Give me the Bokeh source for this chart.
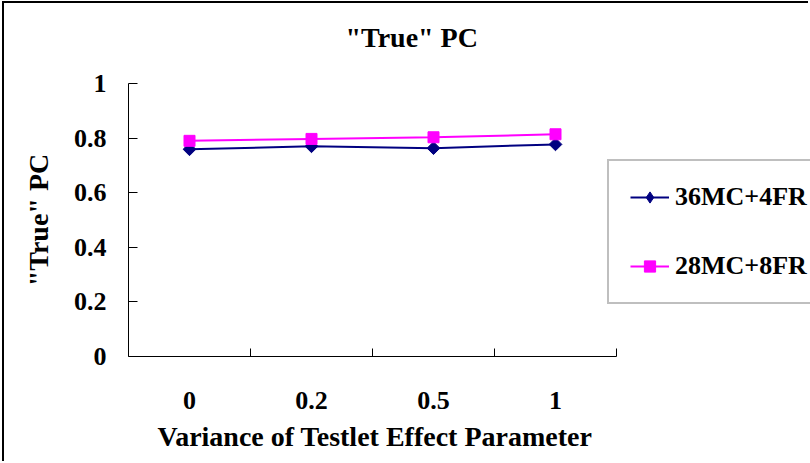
import numpy as np
from bokeh.plotting import figure
from bokeh.models import Range1d, FixedTicker, LinearAxis, Legend, LegendItem, Title
from bokeh.embed import file_html
from bokeh.resources import INLINE

# ---- data ----
categories = ["0", "0.2", "0.5", "1"]
series_names = ["36MC+4FR", "28MC+8FR"]
pc_36mc_4fr = [0.759, 0.770, 0.763, 0.777]
pc_28mc_8fr = [0.790, 0.797, 0.803, 0.814]
y_ticks = [0, 0.2, 0.4, 0.6, 0.8, 1]
y_tick_labels = ["0", "0.2", "0.4", "0.6", "0.8", "1"]
chart_title = '"True" PC'
x_title = "Variance of Testlet Effect Parameter"
y_title = '"True" PC'

FONT = "Liberation Serif"
NAVY = "#000080"
MAGENTA = "#FF00FF"

n = len(categories)
x_pos = (np.arange(n) + 0.5).tolist()
x_bounds = (np.arange(n) + 1).tolist()

# the plotting frame spans 682 px, of which the category axis uses 488 px
FRAME_W, AXIS_W = 682, 488
x_end = n * FRAME_W / AXIS_W

p = figure(
    width=806, height=460,
    output_backend="svg", toolbar_location=None,
    x_range=Range1d(0, x_end), y_range=Range1d(0, 1),
    x_axis_type=None, y_axis_type=None,
    min_border_left=124, min_border_right=0,
    min_border_top=80, min_border_bottom=107,
    styles={"position": "absolute", "left": "2px", "top": "1px",
            "border-left": "2px solid black", "border-top": "2px solid black"},
)
p.outline_line_color = None
p.background_fill_color = "white"
p.border_fill_color = "white"

# chart title
t = Title(text=chart_title, align="left", offset=217, standoff=25,
          vertical_align="bottom",
          padding=dict(left=0, right=0, top=0, bottom=18),
          text_font=FONT, text_font_size="28px", text_font_style="bold",
          text_color="black")
p.add_layout(t, "above")

# x axis (its title is centred under the category axis, see below)
xaxis = LinearAxis(
    ticker=FixedTicker(ticks=x_pos, minor_ticks=x_bounds),
    bounds=(0, n),
    major_label_overrides={x: lab for x, lab in zip(x_pos, categories)},
    major_tick_in=0, major_tick_out=0,
    minor_tick_in=8, minor_tick_out=0,
    minor_tick_line_color="black",
    axis_line_color="black", axis_line_width=1,
    major_label_standoff=35,
    major_label_text_font=FONT, major_label_text_font_size="26px",
    major_label_text_font_style="bold", major_label_text_color="black",
)
p.add_layout(xaxis, "below")

xt = Title(text=x_title, align="left", offset=29, standoff=14,
           vertical_align="bottom",
           text_font=FONT, text_font_size="28px", text_font_style="bold",
           text_color="black")
p.add_layout(xt, "below")

# y axis
yaxis = LinearAxis(
    ticker=FixedTicker(ticks=y_ticks),
    major_label_overrides={v: lab for v, lab in zip(y_ticks, y_tick_labels)},
    major_tick_in=9, major_tick_out=0,
    major_tick_line_color="black",
    minor_tick_in=0, minor_tick_out=0,
    axis_line_color="black", axis_line_width=1,
    major_label_standoff=22,
    major_label_text_font=FONT, major_label_text_font_size="26px",
    major_label_text_font_style="bold", major_label_text_color="black",
    axis_label=y_title, axis_label_standoff=17,
    axis_label_text_font=FONT, axis_label_text_font_size="28px",
    axis_label_text_font_style="bold", axis_label_text_color="black",
)
p.add_layout(yaxis, "left")

p.xgrid.visible = False
p.ygrid.visible = False

l1 = p.line(x_pos, pc_36mc_4fr, line_color=NAVY, line_width=2)
# diamond key used by the legend; it sits hidden under the rotated squares
key1 = p.scatter(x_pos, pc_36mc_4fr, marker="diamond", size=8,
                 fill_color=NAVY, line_color=NAVY)
s1 = p.scatter(x_pos, pc_36mc_4fr, marker="square", angle=np.pi / 4, size=9,
               fill_color=NAVY, line_color=NAVY)
l2 = p.line(x_pos, pc_28mc_8fr, line_color=MAGENTA, line_width=2)
s2 = p.scatter(x_pos, pc_28mc_8fr, marker="square", size=11,
               fill_color=MAGENTA, line_color=MAGENTA)

legend = Legend(
    items=[LegendItem(label=series_names[0], renderers=[l1, key1]),
           LegendItem(label=series_names[1], renderers=[l2, s2])],
    location=(479, 52),
    padding=21, spacing=39, margin=0,
    glyph_width=39, glyph_height=28, label_height=28,
    label_standoff=6,
    label_text_font=FONT, label_text_font_size="26px",
    label_text_font_style="bold", label_text_color="black",
    border_line_color="#808080", border_line_width=2,
    background_fill_color="white", background_fill_alpha=1,
)
p.add_layout(legend, "center")

open("out.html", "w").write(file_html(p, INLINE))
